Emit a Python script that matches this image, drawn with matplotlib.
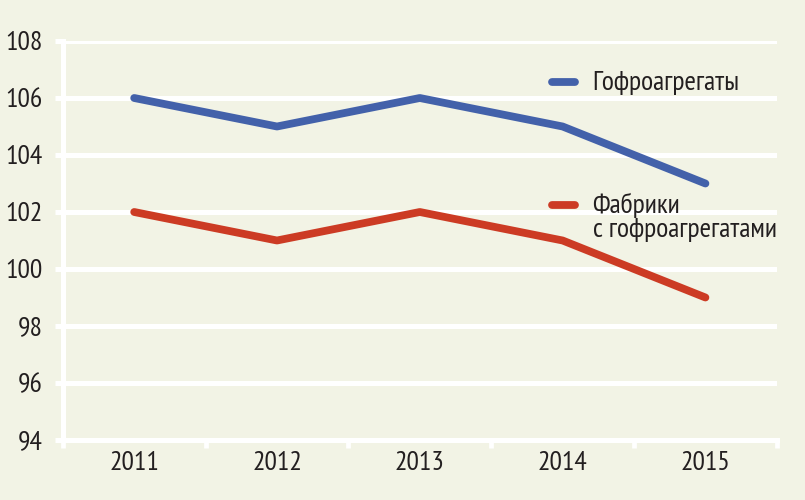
import numpy as np
import matplotlib.pyplot as plt

years = ['2011', '2012', '2013', '2014', '2015']
gofro = [106, 105, 106, 105, 103]        # Гофроагрегаты
fabriki = [102, 101, 102, 101, 99]       # Фабрики с гофроагрегатами
yticks = [94, 96, 98, 100, 102, 104, 106, 108]

plt.rcParams['font.family'] = ['PT Sans Narrow', 'DejaVu Sans']

bg = '#f2f3e5'
blue = '#4361aa'
red = '#cc3b24'
txt = '#231f20'
lw = 5.6

fig = plt.figure(figsize=(8.05, 5.0), dpi=100, facecolor=bg)
ax = fig.add_axes([0.078, 0.12, 0.887, 0.798], facecolor=bg)

x = np.arange(len(years))
ax.plot(x, gofro, color=blue, lw=lw, solid_capstyle='round', solid_joinstyle='round', zorder=3)
ax.plot(x, fabriki, color=red, lw=lw, solid_capstyle='round', solid_joinstyle='round', zorder=3)

ax.set_xlim(-0.5, len(years) - 0.5)
ax.set_ylim(94, 108)
ax.set_yticks(yticks)
ax.set_yticklabels([str(v) for v in yticks], fontsize=20, color=txt)
ax.set_xticks(x)
ax.set_xticklabels(years, fontsize=20, color=txt)
ax.set_xticks(np.arange(-0.5, len(years)), minor=True)
ax.tick_params(axis='x', which='major', length=0, pad=8)
ax.tick_params(axis='x', which='minor', length=5.8, width=3.4, color='white')
ax.tick_params(axis='y', length=5.8, width=3.6, color='white', pad=8.5)

ax.grid(axis='y', color='white', lw=3.6, zorder=1)
ax.set_axisbelow(True)
for s in ['top', 'right']:
    ax.spines[s].set_visible(False)
for s in ['left', 'bottom']:
    ax.spines[s].set_color('white')
    ax.spines[s].set_linewidth(3.6)

# legend drawn by hand
ax.plot([0.685, 0.718], [0.898, 0.898], transform=ax.transAxes, color=blue, lw=lw,
        solid_capstyle='round', clip_on=False)
ax.text(0.742, 0.877, 'Гофроагрегаты', transform=ax.transAxes, fontsize=20,
        color=txt, va='baseline')
ax.plot([0.685, 0.718], [0.589, 0.589], transform=ax.transAxes, color=red, lw=lw,
        solid_capstyle='round', clip_on=False)
ax.text(0.742, 0.569, 'Фабрики', transform=ax.transAxes, fontsize=20,
        color=txt, va='baseline')
ax.text(0.742, 0.509, 'с гофроагрегатами', transform=ax.transAxes, fontsize=20,
        color=txt, va='baseline')

fig.savefig('out.png', dpi=100, facecolor=bg)
